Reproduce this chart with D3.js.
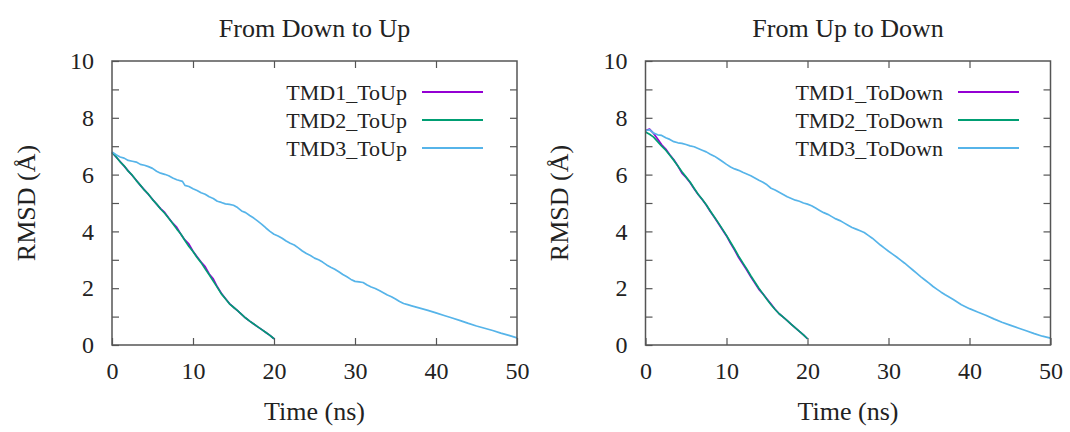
<!DOCTYPE html>
<html>
<head>
<meta charset="utf-8">
<script src="https://cdn.jsdelivr.net/npm/d3@7"></script>
<style>
  body { margin: 0; background: #fff; }
  svg text { font-family: "Liberation Serif", "Times New Roman", serif; fill: #222; }
</style>
</head>
<body>
<div id="chart"></div>
<script>
// values: [time (ns), RMSD (Å)]
const tmd1ToUp = [[0,6.78],[0.5,6.62],[1,6.46],[1.5,6.30],[2,6.13],[2.5,5.97],[3,5.80],[3.5,5.62],[4,5.46],[4.5,5.30],[5,5.13],[5.5,4.96],[6,4.80],[6.5,4.67],[7,4.47],[7.5,4.29],[8,4.14],[8.5,3.90],[9,3.70],[9.5,3.55],[10,3.30],[10.5,3.11],[11,2.92],[11.5,2.76],[12,2.50],[12.5,2.33],[13,2.05],[13.5,1.82],[14,1.64],[14.5,1.46],[15,1.33],[15.5,1.21],[16,1.08],[16.5,0.95],[17,0.84],[17.5,0.74],[18,0.64],[18.5,0.54],[19,0.44],[19.5,0.34],[20,0.22]];
const tmd2ToUp = [[0,6.78],[0.5,6.63],[1,6.45],[1.5,6.31],[2,6.12],[2.5,5.98],[3,5.79],[3.5,5.63],[4,5.45],[4.5,5.31],[5,5.12],[5.5,4.97],[6,4.79],[6.5,4.64],[7,4.46],[7.5,4.28],[8,4.08],[8.5,3.91],[9,3.68],[9.5,3.47],[10,3.29],[10.5,3.08],[11,2.90],[11.5,2.68],[12,2.47],[12.5,2.25],[13,2.03],[13.5,1.80],[14,1.63],[14.5,1.45],[15,1.33],[15.5,1.21],[16,1.08],[16.5,0.95],[17,0.84],[17.5,0.74],[18,0.64],[18.5,0.54],[19,0.44],[19.5,0.34],[20,0.22]];
const tmd3ToUp = [[0,6.80],[0.5,6.70],[1,6.62],[1.5,6.58],[2,6.50],[2.5,6.47],[3,6.44],[3.5,6.36],[4,6.33],[4.5,6.28],[5,6.22],[5.5,6.12],[6,6.05],[6.5,6.01],[7,5.96],[7.5,5.88],[8,5.82],[8.7,5.76],[9,5.62],[9.5,5.58],[10,5.50],[10.5,5.44],[11,5.36],[11.5,5.31],[12,5.22],[12.5,5.16],[13,5.06],[13.5,5.02],[14,4.97],[14.5,4.95],[15,4.92],[15.5,4.84],[16,4.72],[16.5,4.66],[17,4.56],[17.5,4.47],[18,4.36],[18.5,4.25],[19,4.12],[19.5,4.00],[20,3.90],[20.5,3.84],[21,3.76],[21.5,3.66],[22,3.58],[22.5,3.52],[23,3.42],[23.5,3.31],[24,3.22],[24.5,3.15],[25,3.06],[25.5,3.00],[26,2.92],[26.5,2.82],[27,2.74],[27.5,2.67],[28,2.58],[28.5,2.48],[29,2.40],[29.5,2.31],[30,2.24],[30.5,2.22],[31,2.20],[31.5,2.11],[32,2.04],[32.5,1.99],[33,1.92],[33.5,1.84],[34,1.76],[34.5,1.70],[35,1.62],[35.5,1.53],[36,1.46],[36.5,1.42],[37,1.38],[38,1.30],[39,1.22],[40,1.13],[41,1.04],[42,0.95],[43,0.86],[44,0.76],[45,0.67],[46,0.59],[47,0.51],[48,0.42],[49,0.34],[50,0.25]];

const tmd1ToDown = [[0,7.55],[0.5,7.60],[1,7.45],[1.5,7.25],[2,7.05],[2.5,6.90],[3,6.70],[3.5,6.52],[4,6.30],[4.5,6.05],[5,5.90],[5.5,5.72],[6,5.50],[6.5,5.30],[7,5.12],[7.5,4.93],[8,4.70],[8.5,4.50],[9,4.28],[9.5,4.06],[10,3.84],[10.5,3.58],[11,3.34],[11.5,3.08],[12,2.86],[12.5,2.64],[13,2.40],[13.5,2.18],[14,1.96],[14.5,1.80],[15,1.62],[15.5,1.44],[16,1.26],[16.5,1.10],[17,0.98],[17.5,0.86],[18,0.73],[18.5,0.60],[19,0.48],[19.5,0.36],[20,0.22]];
const tmd2ToDown = [[0,7.50],[0.5,7.42],[1,7.32],[1.5,7.16],[2,7.00],[2.5,6.86],[3,6.68],[3.5,6.50],[4,6.30],[4.5,6.10],[5,5.92],[5.5,5.74],[6,5.52],[6.5,5.31],[7,5.13],[7.5,4.94],[8,4.72],[8.5,4.51],[9,4.30],[9.5,4.08],[10,3.86],[10.5,3.62],[11,3.38],[11.5,3.13],[12,2.90],[12.5,2.68],[13,2.44],[13.5,2.22],[14,2.00],[14.5,1.80],[15,1.60],[15.5,1.42],[16,1.25],[16.5,1.10],[17,0.98],[17.5,0.86],[18,0.73],[18.5,0.60],[19,0.48],[19.5,0.36],[20,0.22]];
const tmd3ToDown = [[0,7.55],[0.5,7.58],[1,7.46],[1.5,7.40],[2,7.38],[2.5,7.30],[3,7.24],[3.5,7.16],[4,7.12],[4.5,7.10],[5,7.06],[5.5,7.01],[6,6.98],[6.5,6.92],[7,6.86],[7.5,6.80],[8,6.72],[8.5,6.65],[9,6.56],[9.5,6.46],[10,6.36],[10.5,6.27],[11,6.20],[11.5,6.15],[12,6.08],[12.5,6.02],[13,5.96],[13.5,5.88],[14,5.80],[14.5,5.73],[15,5.64],[15.5,5.52],[16,5.46],[16.5,5.38],[17,5.30],[17.5,5.22],[18,5.16],[18.5,5.10],[19,5.06],[19.5,5.00],[20,4.96],[20.5,4.90],[21,4.82],[21.5,4.74],[22,4.66],[22.5,4.60],[23,4.52],[23.5,4.44],[24,4.38],[24.5,4.30],[25,4.22],[25.5,4.14],[26,4.08],[26.5,4.02],[27,3.96],[27.5,3.86],[28,3.76],[28.5,3.64],[29,3.52],[29.5,3.41],[30,3.30],[30.5,3.20],[31,3.10],[31.5,2.99],[32,2.88],[32.5,2.76],[33,2.64],[33.5,2.52],[34,2.40],[34.5,2.29],[35,2.18],[35.5,2.06],[36,1.96],[36.5,1.86],[37,1.77],[38,1.60],[39,1.42],[40,1.28],[41,1.16],[42,1.05],[43,0.92],[44,0.80],[45,0.70],[46,0.60],[47,0.50],[48,0.40],[49,0.31],[50,0.24]];

const xTicks = [0, 10, 20, 30, 40, 50];
const yTicks = [0, 1, 2, 3, 4, 5, 6, 7, 8, 9, 10];
const yLabelled = [0, 2, 4, 6, 8, 10];

const panels = [
  { title: 'From Down to Up', names: ['TMD1_ToUp', 'TMD2_ToUp', 'TMD3_ToUp'],
    series: [tmd1ToUp, tmd2ToUp, tmd3ToUp], left: 112, right: 517, ylab: 35, legText: 407 },
  { title: 'From Up to Down', names: ['TMD1_ToDown', 'TMD2_ToDown', 'TMD3_ToDown'],
    series: [tmd1ToDown, tmd2ToDown, tmd3ToDown], left: 645.5, right: 1050.5, ylab: 568, legText: 943 }
];
const colors = ['#9400d3', '#009e73', '#56b4e9'];

const plotTop = 61, plotBottom = 345;

const svg = d3.select('#chart').append('svg')
    .attr('width', 1070)
    .attr('height', 432);

panels.forEach(p => {
  const x = d3.scaleLinear().domain([0, 50]).range([p.left, p.right]);
  const y = d3.scaleLinear().domain([0, 10]).range([plotBottom, plotTop]);
  const g = svg.append('g');

  // axes, gnuplot style: ticks pointing inwards on all four sides
  const bottomAxis = g.append('g')
      .attr('transform', `translate(0,${plotBottom})`)
      .call(d3.axisBottom(x).tickValues(xTicks).tickSize(-7).tickPadding(17));
  const leftAxis = g.append('g')
      .attr('transform', `translate(${p.left},0)`)
      .call(d3.axisLeft(y).tickValues(yTicks).tickSize(-7).tickPadding(18)
        .tickFormat(d => yLabelled.includes(d) ? d : ''));
  const topAxis = g.append('g')
      .attr('transform', `translate(0,${plotTop})`)
      .call(d3.axisTop(x).tickValues(xTicks.slice(1, -1)).tickSize(-7).tickFormat(''));
  const rightAxis = g.append('g')
      .attr('transform', `translate(${p.right},0)`)
      .call(d3.axisRight(y).tickValues(yTicks.slice(1, -1)).tickSize(-7).tickFormat(''));

  [bottomAxis, leftAxis, topAxis, rightAxis].forEach(a => {
    a.select('.domain').remove();
    a.selectAll('line').attr('stroke', '#555').attr('stroke-width', 1.2);
    a.selectAll('text').attr('font-size', 24).attr('fill', '#222')
      .style('font-family', '"Liberation Serif", "Times New Roman", serif');
  });
  bottomAxis.selectAll('text').attr('dy', '0.71em');

  // lines
  const line = d3.line().x(d => x(d[0])).y(d => y(d[1]));
  p.series.forEach((s, i) => {
    g.append('path')
      .datum(s)
      .attr('fill', 'none')
      .attr('stroke', colors[i])
      .attr('stroke-width', 1.7)
      .attr('stroke-linejoin', 'round')
      .attr('d', line);
  });

  // frame
  g.append('rect')
    .attr('x', p.left).attr('y', plotTop)
    .attr('width', p.right - p.left).attr('height', plotBottom - plotTop)
    .attr('fill', 'none').attr('stroke', '#555').attr('stroke-width', 1.5);

  // legend
  p.names.forEach((n, i) => {
    const ly = 92 + i * 28;
    g.append('text')
      .attr('x', p.legText).attr('y', ly + 8)
      .attr('text-anchor', 'end')
      .attr('font-size', 22)
      .text(n);
    g.append('line')
      .attr('x1', p.legText + 15).attr('x2', p.legText + 76)
      .attr('y1', ly).attr('y2', ly)
      .attr('stroke', colors[i]).attr('stroke-width', 1.8);
  });

  // titles
  const cx = (p.left + p.right) / 2;
  g.append('text')
    .attr('x', cx).attr('y', 37)
    .attr('text-anchor', 'middle')
    .attr('font-size', 26)
    .text(p.title);
  g.append('text')
    .attr('x', cx).attr('y', 420)
    .attr('text-anchor', 'middle')
    .attr('font-size', 26)
    .text('Time (ns)');
  g.append('text')
    .attr('transform', `translate(${p.ylab},${(plotTop + plotBottom) / 2}) rotate(-90)`)
    .attr('text-anchor', 'middle')
    .attr('font-size', 26)
    .text('RMSD (Å)');
});
</script>
</body>
</html>
